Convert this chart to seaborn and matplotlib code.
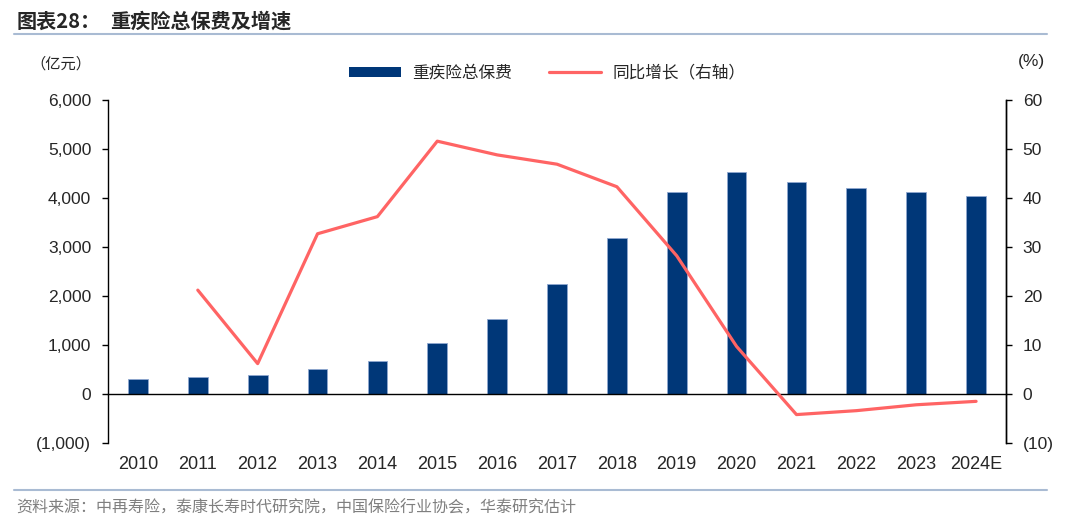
import matplotlib
matplotlib.use("Agg")
import matplotlib.pyplot as plt
import matplotlib.lines as mlines
import matplotlib.patches as mpatches
import numpy as np
import pandas as pd
import seaborn as sns

years = ["2010", "2011", "2012", "2013", "2014", "2015", "2016", "2017",
         "2018", "2019", "2020", "2021", "2022", "2023", "2024E"]
premium = [306, 340, 388, 510, 673, 1040, 1522, 2250,
           3184, 4114, 4523, 4318, 4196, 4114, 4033]
growth = [np.nan, 21.2, 6.2, 32.7, 36.2, 51.6, 48.8, 46.9,
          42.3, 28.2, 9.7, -4.2, -3.4, -2.2, -1.5]

left_ticks = [-1000, 0, 1000, 2000, 3000, 4000, 5000, 6000]
left_labels = ["(1,000)", "0", "1,000", "2,000", "3,000", "4,000", "5,000", "6,000"]
right_ticks = [-10, 0, 10, 20, 30, 40, 50, 60]
right_labels = ["(10)", "0", "10", "20", "30", "40", "50", "60"]

bar_color = "#003778"
line_color = "#FF6464"
rule_color = "#A9BBD3"

sns.set_style("white")
plt.rcParams["font.family"] = ["Liberation Sans", "Noto Sans CJK SC", "DejaVu Sans"]
cjk = ["Noto Sans CJK SC", "DejaVu Sans"]

df = pd.DataFrame({"year": years, "premium": premium, "growth": growth})
df["pos"] = range(len(years))

fig = plt.figure(figsize=(10.8, 5.25), dpi=100)
ax = fig.add_axes([0.1, 0.1562, 0.8315, 0.6533])

sns.barplot(data=df, x="year", y="premium", order=years, color=bar_color,
            width=0.33, edgecolor="#8FA8D0", linewidth=0.6, saturation=1, ax=ax)
ax.set_xlim(-0.5, len(years) - 0.5)
ax.set_ylim(-1000, 6000)
ax.set_yticks(left_ticks)
ax.set_yticklabels(left_labels, fontsize=12.5)
ax.set_xlabel("")
ax.set_ylabel("")

ax.spines["top"].set_visible(False)
ax.spines["bottom"].set_position(("data", 0))
for s in ["left", "bottom", "right"]:
    ax.spines[s].set_color("black")
    ax.spines[s].set_linewidth(1.0)

# year labels sit below the plot, boundary ticks sit on the zero line
ax.set_xticks(range(len(years)))
ax.set_xticklabels(years, fontsize=13)
ax.set_xticks(np.arange(0.5, len(years) - 1, 1.0), minor=True)
ax.tick_params(axis="x", which="major", length=0, pad=45)
ax.tick_params(axis="x", which="minor", length=4, width=1, direction="out", color="black")
ax.tick_params(axis="y", length=4, width=1, direction="out", color="black", left=True, pad=8)

ax2 = ax.twinx()
sns.lineplot(data=df.dropna(), x="pos", y="growth", color=line_color,
             linewidth=2.3, ax=ax2)
ax2.set_ylim(-10, 60)
ax2.set_xlim(-0.5, len(years) - 0.5)
ax2.set_yticks(right_ticks)
ax2.set_yticklabels(right_labels, fontsize=12.5)
ax2.set_ylabel("")
ax2.set_xlabel("")
ax2.spines["top"].set_visible(False)
ax2.spines["left"].set_visible(False)
ax2.spines["bottom"].set_visible(False)
ax2.spines["right"].set_color("black")
ax2.spines["right"].set_linewidth(1.0)
ax2.tick_params(axis="y", length=4, width=1, direction="out", color="black", right=True, pad=8)
ax2.tick_params(axis="x", length=0, labelbottom=False)

handles = [mpatches.Patch(facecolor=bar_color, edgecolor="none"),
           mlines.Line2D([], [], color=line_color, linewidth=2.3)]
leg = ax.legend(handles, ["重疾险总保费", "同比增长（右轴）"], loc="center",
                bbox_to_anchor=(0.489, 1.078), ncol=2, frameon=False,
                handlelength=3.1, handleheight=0.5, columnspacing=2.2, handletextpad=0.7,
                prop={"family": cjk, "size": 12})

fig.text(0.056, 0.878, "（亿元）", fontsize=11, family=cjk, ha="center", va="center")
fig.text(0.955, 0.882, "(%)", fontsize=12.5, ha="center", va="center")

fig.text(0.015, 0.96, "图表28：", fontsize=14.5, fontweight="bold", family=cjk, va="center")
fig.text(0.102, 0.96, "重疾险总保费及增速", fontsize=14.5, fontweight="bold", family=cjk, va="center")
fig.add_artist(mlines.Line2D([0.013, 0.969], [0.935, 0.935], color=rule_color, linewidth=1.5))
fig.add_artist(mlines.Line2D([0.013, 0.969], [0.067, 0.067], color=rule_color, linewidth=1.5))
fig.text(0.015, 0.033, "资料来源：中再寿险，泰康长寿时代研究院，中国保险行业协会，华泰研究估计",
         fontsize=11.5, color="#7F7F7F", family=cjk, va="center")

fig.savefig("out.png", dpi=100)
